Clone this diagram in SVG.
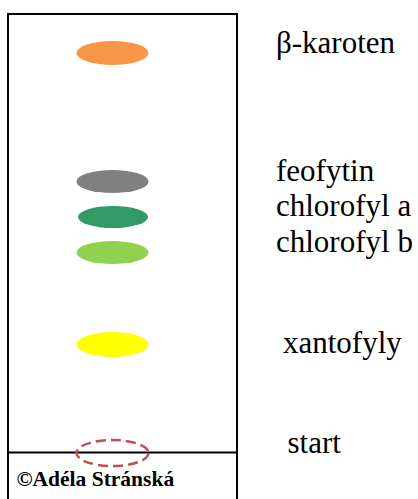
<svg xmlns="http://www.w3.org/2000/svg" width="418" height="499" viewBox="0 0 418 499">
<style>
text{font-family:'Liberation Serif','Times New Roman',serif;fill:#000}
.lbl{font-size:31px}
.copy{font-size:21.5px;font-weight:bold}
.frame{fill:none;stroke:#000;stroke-width:2}
</style>
<rect width="418" height="499" fill="#fff"/>
<g id="plate">
<rect class="frame" x="8" y="14" width="229" height="495"/>
<line class="frame" x1="8" y1="452.5" x2="237" y2="452.5"/>
</g>
<g id="spot-karoten"><ellipse cx="112.5" cy="53" rx="36" ry="12" fill="#F79646"/></g>
<g id="spot-feofytin"><ellipse cx="112.5" cy="181.5" rx="36" ry="11.5" fill="#808080"/></g>
<g id="spot-chlorofyl-a"><ellipse cx="113" cy="217" rx="35" ry="11" fill="#339966"/></g>
<g id="spot-chlorofyl-b"><ellipse cx="112.5" cy="252.5" rx="36" ry="11.5" fill="#92D050"/></g>
<g id="spot-xantofyly"><ellipse cx="112.5" cy="344.5" rx="36" ry="12.5" fill="#FFFF00"/></g>
<g id="spot-start"><ellipse cx="112.5" cy="453" rx="36" ry="13" fill="none" stroke="#C0504D" stroke-width="2.5" stroke-dasharray="10 5"/></g>
<g id="labels">
<text class="lbl" x="276" y="53">β-karoten</text>
<text class="lbl" x="276" y="181">feofytin</text>
<text class="lbl" x="276" y="216">chlorofyl a</text>
<text class="lbl" x="276" y="252">chlorofyl b</text>
<text class="lbl" x="283" y="353">xantofyly</text>
<text class="lbl" x="287.5" y="453">start</text>
<text class="copy" x="16.5" y="486">©Adéla Stránská</text>
</g>
</svg>
